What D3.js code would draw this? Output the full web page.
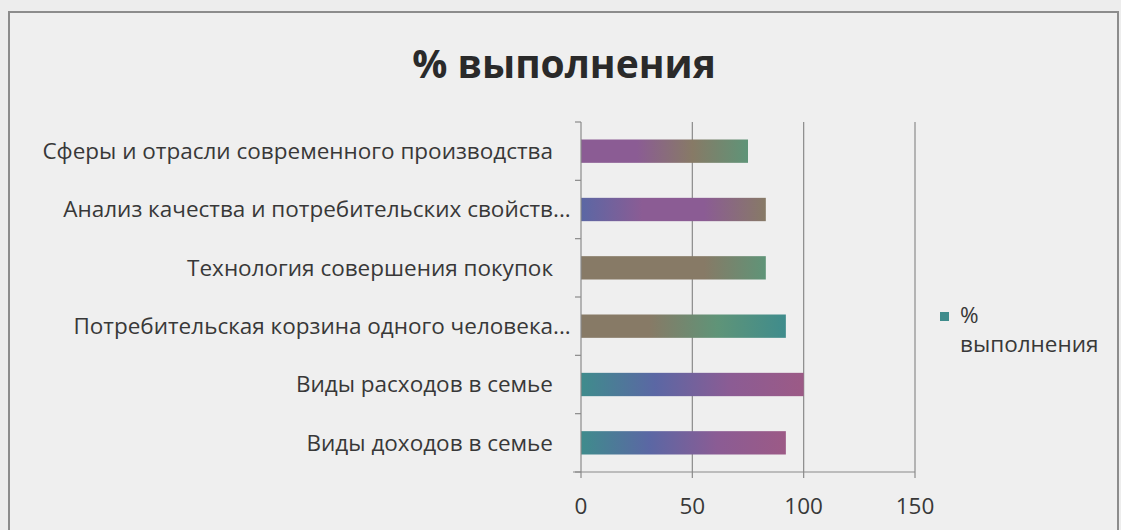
<!DOCTYPE html>
<html>
<head>
<meta charset="utf-8">
<title>% выполнения</title>
<style>
    body { margin: 0; background: #ededed; }
    text { font-family: "Open Sans", sans-serif; fill: #383838; }
    .title { font-weight: bold; fill: #2a2a2a; }
    .grid, .axisline { stroke: #8a8a8a; stroke-width: 1.2; }
</style>
</head>
<body>
<script src="https://cdn.jsdelivr.net/npm/d3@7"></script>
<script>

// data, top to bottom as shown
var categories = [
    "Сферы и отрасли современного производства",
    "Анализ качества и потребительских свойств...",
    "Технология совершения покупок",
    "Потребительская корзина одного человека...",
    "Виды расходов в семье",
    "Виды доходов в семье"
];
var values = [75, 83, 83, 92, 100, 92];
var xTicks = [0, 50, 100, 150];
var seriesName = ["%", "выполнения"];

// scan-like colour bands per bar
var P = "#8b5c94", B = "#5b67a4", T = "#3f8c8c", O = "#877a66", G = "#5f9478", M = "#9c5a86";
var barStops = [[P, P, O, G], [B, P, P, O], [O, O, O, G], [O, O, G, T], [T, B, P, M], [T, B, P, M]];

var W = 1121, H = 530;
var x0 = 581, x1 = 915, yTop = 122, yBot = 472;
var fs = 22.5;

var svg = d3.select("body").append("svg")
        .attr("width", W)
        .attr("height", H);

//chart frame
svg.append("rect")
        .attr("x", 9).attr("y", 12)
        .attr("width", 1109).attr("height", 530)
        .attr("fill", "#efefef")
        .attr("stroke", "#8c8c8c")
        .attr("stroke-width", 2);

svg.append("text")
        .attr("class", "title")
        .attr("x", 564).attr("y", 78)
        .attr("text-anchor", "middle")
        .attr("font-size", 39)
        .text("% выполнения");

var x = d3.scaleLinear().domain([0, 150]).range([x0, x1]);
var y = d3.scaleBand().domain(categories).range([yTop, yBot])
        .paddingInner(0.6).paddingOuter(0.3);

//gridlines
svg.selectAll(".grid")
        .data(xTicks.slice(1))
        .enter().append("line")
        .attr("class", "grid")
        .attr("x1", d => x(d)).attr("x2", d => x(d))
        .attr("y1", yTop).attr("y2", yBot);

//gradients
var defs = svg.append("defs");
barStops.forEach(function(stops, i) {
    var g = defs.append("linearGradient").attr("id", "g" + i);
    stops.forEach(function(c, j) {
        g.append("stop").attr("offset", (j / (stops.length - 1) * 100) + "%").attr("stop-color", c);
    });
});

//bars
svg.selectAll(".bar")
        .data(values)
        .enter().append("rect")
        .attr("class", "bar")
        .attr("x", x(0))
        .attr("y", (d, i) => y(categories[i]))
        .attr("width", d => x(d) - x(0))
        .attr("height", y.bandwidth())
        .attr("fill", (d, i) => "url(#g" + i + ")");

//y axis
svg.append("line").attr("class", "axisline")
        .attr("x1", x0).attr("x2", x0).attr("y1", yTop).attr("y2", yBot);
var bounds = categories.map(c => y(c) - y.step() * y.paddingInner() / 2);
bounds.push(yBot);
bounds[0] = yTop;
svg.selectAll(".ytick")
        .data(bounds)
        .enter().append("line")
        .attr("class", "axisline")
        .attr("x1", x0 - 6).attr("x2", x0)
        .attr("y1", d => d).attr("y2", d => d);

// labels: truncated ones keep their "..." hanging past the right edge
var labelEnd = 553;
var ylabs = svg.selectAll(".ylab")
        .data(categories)
        .enter().append("text")
        .attr("class", "ylab")
        .attr("x", labelEnd)
        .attr("y", d => y(d) + y.bandwidth() / 2)
        .attr("dy", "0.35em")
        .attr("text-anchor", "end")
        .attr("font-size", fs)
        .text(d => d);
var probe = svg.append("text").attr("font-size", fs).text("...");
var dotsW = probe.node().getComputedTextLength();
probe.remove();
ylabs.filter(d => d.endsWith("...")).attr("x", labelEnd + dotsW);

//x axis
svg.append("line").attr("class", "axisline")
        .attr("x1", x0 - 8).attr("x2", x1).attr("y1", yBot).attr("y2", yBot);
svg.selectAll(".xtick")
        .data(xTicks)
        .enter().append("line")
        .attr("class", "axisline")
        .attr("x1", d => x(d)).attr("x2", d => x(d))
        .attr("y1", yBot).attr("y2", yBot + 6);
svg.selectAll(".xlab")
        .data(xTicks)
        .enter().append("text")
        .attr("x", d => x(d))
        .attr("y", 514)
        .attr("text-anchor", "middle")
        .attr("font-size", fs)
        .text(d => d);

//legend
svg.append("rect")
        .attr("x", 940).attr("y", 312)
        .attr("width", 9).attr("height", 9)
        .attr("fill", T);
svg.selectAll(".leg")
        .data(seriesName)
        .enter().append("text")
        .attr("x", 960)
        .attr("y", (d, i) => 323 + i * 29)
        .attr("font-size", fs)
        .text(d => d);

</script>
</body>
</html>
